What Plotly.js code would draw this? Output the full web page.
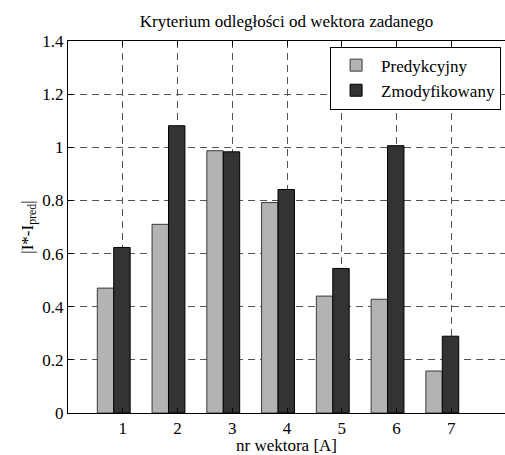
<!DOCTYPE html>
<html>
<head>
<meta charset="utf-8">
<script src="https://cdn.plot.ly/plotly-3.0.1.min.js"></script>
<style>html,body{margin:0;padding:0;background:#fff;overflow:hidden}#chart{width:505px;height:455px}</style>
</head>
<body>
<div id="chart"></div>
<script>
const vectors = [1, 2, 3, 4, 5, 6, 7];
const predykcyjny = [0.47, 0.71, 0.987, 0.792, 0.44, 0.428, 0.158];
const zmodyfikowany = [0.623, 1.081, 0.983, 0.841, 0.544, 1.006, 0.289];
const seriesNames = ['Predykcyjny', 'Zmodyfikowany'];
const titleText = 'Kryterium odległości od wektora zadanego';
const xTitle = 'nr wektora [A]';
const yTitle = '|I*-I<sub>pred</sub>|';

const font = 'Liberation Serif';
const fs = 17;
const traces = [
  {type: 'bar', name: seriesNames[0], x: vectors, y: predykcyjny, width: 0.3, offset: -0.465,
   marker: {color: '#b3b3b3', line: {color: '#3a3a3a', width: 1}}},
  {type: 'bar', name: seriesNames[1], x: vectors, y: zmodyfikowany, width: 0.3, offset: -0.165,
   marker: {color: '#333333', line: {color: '#000000', width: 1}}}
];
const layout = {
  width: 505, height: 455,
  margin: {l: 68, r: 0, t: 41, b: 42},
  paper_bgcolor: '#fff', plot_bgcolor: '#fff',
  font: {family: font, size: fs, color: '#000'},
  barmode: 'overlay',
  title: {text: titleText, x: 0.5, xref: 'paper', xanchor: 'center', y: 1 - 21/455, yref: 'container', yanchor: 'middle',
          font: {family: font, size: fs, color: '#000'}},
  xaxis: {range: [0, 7.98], tickmode: 'array', tickvals: vectors, ticktext: vectors.map(String),
          showline: true, linecolor: '#000', linewidth: 1, mirror: 'ticks', ticks: 'inside', ticklen: 5, tickcolor: '#000',
          showgrid: true, gridcolor: '#555', griddash: '7px,5px', gridwidth: 1, zeroline: false,
          title: {text: xTitle, standoff: 2, font: {family: font, size: fs}}, tickfont: {family: font, size: fs}},
  yaxis: {range: [0, 1.4], dtick: 0.2, tick0: 0,
          showline: true, linecolor: '#000', linewidth: 1, mirror: false, ticks: 'inside', ticklen: 5, tickcolor: '#000',
          showgrid: true, gridcolor: '#555', griddash: '7px,5px', gridwidth: 1, zeroline: false,
          title: {text: yTitle, standoff: 4, font: {family: font, size: fs}}, tickfont: {family: font, size: fs}},
  showlegend: true,
  legend: {x: 0.991, xanchor: 'right', y: 0.985, yanchor: 'top', bgcolor: '#fff', bordercolor: '#000', borderwidth: 1,
           font: {family: font, size: fs, color: '#000'}, tracegroupgap: 0, itemwidth: 40}
};
Plotly.newPlot('chart', traces, layout, {staticPlot: true, displayModeBar: false});
</script>
</body>
</html>
